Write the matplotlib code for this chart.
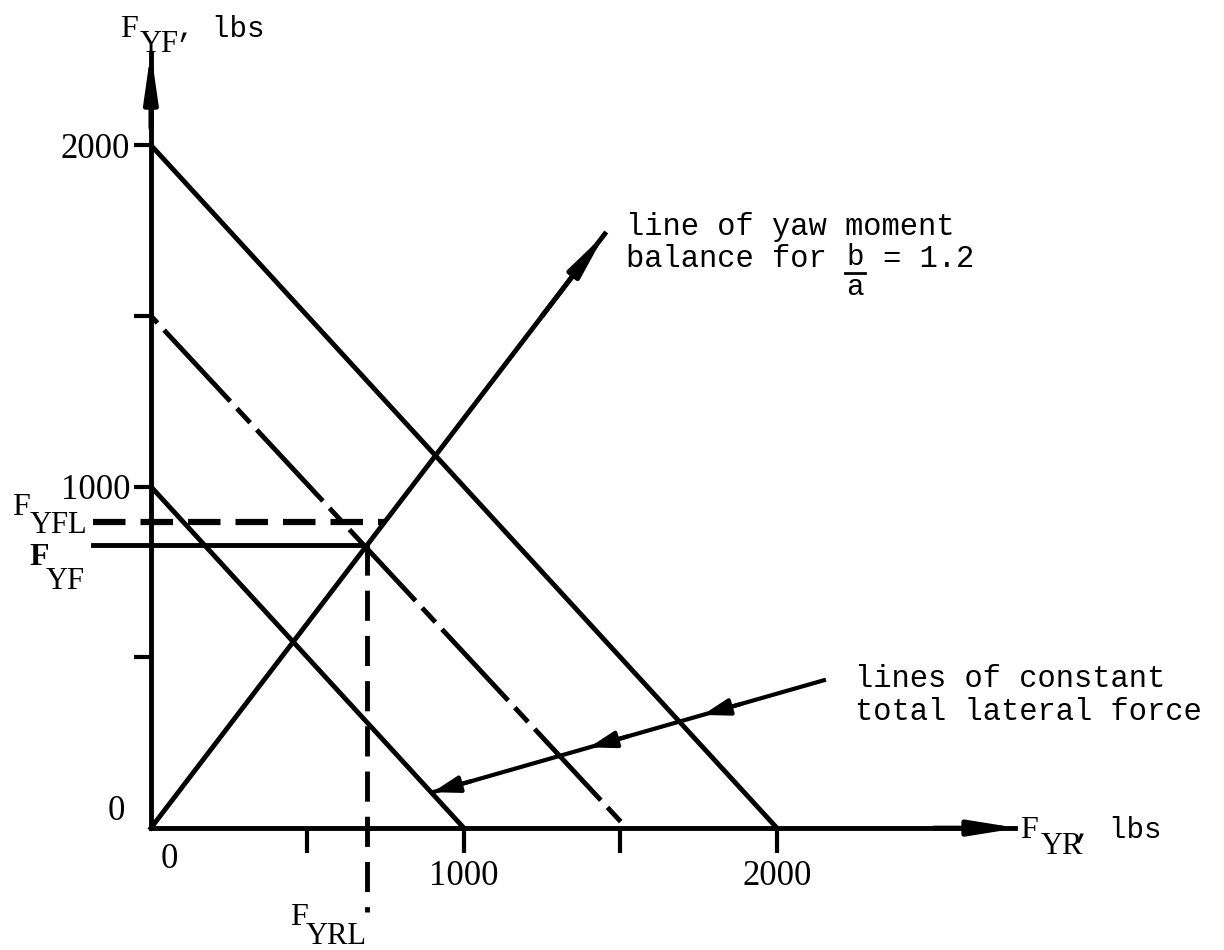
import numpy as np
import matplotlib.pyplot as plt

plt.rcParams['font.family'] = ['Liberation Serif', 'DejaVu Serif']

# lines of constant total lateral force: intercepts on F_YF and F_YR axes (lbs)
yf_intercepts = [1000, 1500, 2000]
yr_intercepts = [1000, 1520, 2000]
line_styles = ['-', (24.0, (20.0, 2.0, 4.0, 2.0)), '-']

# yaw moment balance line F_YF = (b/a) F_YR
b_over_a = 1.2
yaw_end = 1450

# operating point and limit values
F_YRL = 690
F_YF = b_over_a * F_YRL
F_YFL = 895

# pointer for "lines of constant total lateral force"
ptr_start = (2150, 433)
ptr_end = (900, 105)
ptr_heads = [0.69, 0.40, 0.0]

ticks = [500, 1000, 1500, 2000]
tick_labels = ['', '1000', '', '2000']

fig = plt.figure(figsize=(12.24, 9.5), dpi=100)
ax = fig.add_axes([0, 0, 1, 1])
ax.set_xlim(-482, 3428)
ax.set_ylim(-357, 2425)

lw = 3.5
for s in ['top', 'right']:
    ax.spines[s].set_visible(False)
ax.spines['left'].set_position(('data', 0))
ax.spines['bottom'].set_position(('data', 0))
ax.spines['left'].set_bounds(0, 2270)
ax.spines['bottom'].set_bounds(0, 2760)
for s in ['left', 'bottom']:
    ax.spines[s].set_linewidth(lw)

ax.set_xticks(ticks)
ax.set_xticklabels(tick_labels, fontsize=25)
ax.set_yticks(ticks)
ax.set_yticklabels(tick_labels, fontsize=25)
ax.tick_params(axis='x', direction='out', length=18, width=3, pad=5)
ax.tick_params(axis='y', direction='out', length=12, width=3, pad=3)

head = dict(color='k', lw=lw, shrinkA=0, shrinkB=0, mutation_scale=10)
# axis arrowheads
ax.annotate('', xy=(0, 2275), xytext=(0, 2050),
            arrowprops=dict(arrowstyle='-|>,head_length=2.8,head_width=0.4', **head))
ax.annotate('', xy=(2770, 0), xytext=(2500, 0),
            arrowprops=dict(arrowstyle='-|>,head_length=2.8,head_width=0.45', **head))

ax.text(-112, 50, '0', fontsize=25, ha='center', va='center')
ax.text(58, -91, '0', fontsize=25, ha='center', va='center')

# constant total lateral force lines
for yf, yr, ls in zip(yf_intercepts, yr_intercepts, line_styles):
    ax.plot([0, yr], [yf, 0], color='k', lw=lw, linestyle=ls, solid_capstyle='butt')

# yaw moment balance line
ax.plot([0, yaw_end], [0, b_over_a * yaw_end], color='k', lw=lw)
ax.annotate('', xy=(yaw_end, b_over_a * yaw_end),
            xytext=(yaw_end - 200, b_over_a * (yaw_end - 200)),
            arrowprops=dict(arrowstyle='-|>,head_length=2.6,head_width=0.4', **head))

# operating point construction lines
ax.plot([-185, F_YFL / b_over_a], [F_YFL, F_YFL], color='k', lw=lw + 1,
        linestyle=(0, (5.2, 2.4)))
ax.plot([-185, F_YRL], [F_YF, F_YF], color='k', lw=lw)
ax.plot([F_YRL, F_YRL], [F_YF, -245], color='k', lw=lw, linestyle=(0, (6.2, 3.1)))

# pointer with arrowheads at each line it meets
ax.plot([ptr_start[0], ptr_end[0]], [ptr_start[1], ptr_end[1]], color='k', lw=3)
dx = ptr_start[0] - ptr_end[0]
dy = ptr_start[1] - ptr_end[1]
for t in ptr_heads:
    tip = (ptr_end[0] + t * dx, ptr_end[1] + t * dy)
    base = (tip[0] + 0.1 * dx, tip[1] + 0.1 * dy)
    ax.annotate('', xy=tip, xytext=base,
                arrowprops=dict(arrowstyle='-|>,head_length=1.6,head_width=0.5',
                                color='k', lw=3, shrinkA=0, shrinkB=0, mutation_scale=10))


def sub_label(x, y, sub, dx_px, dy_px, size=23, weight='normal', tail=None, tail_px=0):
    # F with a full-size subscript, offsets given in pixels at 100 dpi
    ax.text(x, y, 'F', fontsize=size, va='baseline', ha='left', fontweight=weight)
    ax.annotate(sub, (x, y), xytext=(dx_px * 0.72, dy_px * 0.72),
                textcoords='offset points', fontsize=size - 1, va='baseline', ha='left')
    if tail:
        ax.annotate(tail, (x, y), xytext=(tail_px * 0.72, 0), textcoords='offset points',
                    fontsize=21, family='Liberation Mono', va='baseline', ha='left')


sub_label(-99, 2316, 'YF', 20, -15, tail=', lbs', tail_px=57)
sub_label(2776, -29, 'YR', 21, -16, tail=', lbs', tail_px=54)
sub_label(-444, 917, 'YFL', 18, -18)
sub_label(-387, 770, 'YF', 16, -24, weight='bold')
sub_label(444, -284, 'YRL', 16, -19)

mono = 'Liberation Mono'
ax.text(1518, 1736, 'line of yaw moment', fontsize=22, family=mono, va='baseline')
ax.text(1518, 1643, 'balance for', fontsize=22, family=mono, va='baseline')
ax.text(2339, 1643, '= 1.2', fontsize=22, family=mono, va='baseline')
# b over a, typed as a stacked fraction
ax.text(2222, 1649, 'b', fontsize=21, family=mono, va='baseline')
ax.plot([2216, 2282], [1627, 1627], color='k', lw=2)
ax.text(2222, 1560, 'a', fontsize=21, family=mono, va='baseline')
ax.text(2249, 413, 'lines of constant', fontsize=22, family=mono, va='baseline')
ax.text(2249, 316, 'total lateral force', fontsize=22, family=mono, va='baseline')

fig.savefig('out.png', dpi=100)
